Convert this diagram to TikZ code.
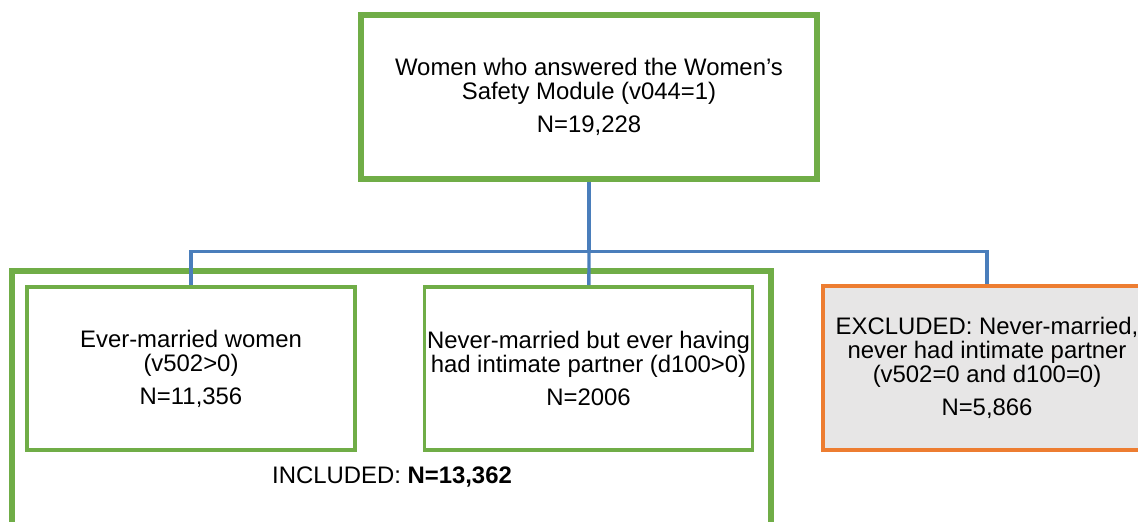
\documentclass[tikz,border=0pt]{standalone}
\usepackage{fontspec}
\setmainfont{Liberation Sans}
\usepackage{xcolor}
\usetikzlibrary{positioning,calc}
\definecolor{boxgreen}{HTML}{70AD47}
\definecolor{linkblue}{HTML}{4A7EBB}
\definecolor{exclorange}{HTML}{ED7D31}
\definecolor{exclgray}{HTML}{E7E6E6}
\tikzset{
  every picture/.style = {
    x=0.02cm,
    y=-0.02cm,
    font=\fontsize{13.6}{13.7}\selectfont
  }
}
\tikzset{
  stagebox/.style={
    draw = boxgreen,
    line width=3.4pt,
    align=center,
    inner sep=0pt,
    minimum width=9.12cm,
    minimum height=3.28cm
  },
  subbox/.style={
    draw = boxgreen,
    line width=2.2pt,
    align=center,
    inner sep=0pt,
    minimum width=6.56cm,
    minimum height=3.26cm
  },
  exclbox/.style={
    draw = exclorange,
    line width=2.2pt,
    fill = exclgray,
    align=center,
    inner sep=0pt,
    minimum width=6.56cm,
    minimum height=3.28cm
  },
  link/.style={
    draw = linkblue,
    line width=1.9pt
  },
  frame/.style={
    draw = boxgreen,
    line width=3.4pt
  }
}
\begin{document}
\begin{tikzpicture}
    \useasboundingbox (0,0) rectangle (1138,521);
    % outer frame of the included women
    \coordinate (frameBL) at (12,540);
    \coordinate (frameTR) at (771,271);
    \draw[frame] (frameBL) |- (frameTR) -- (frameTR |- frameBL);
    \node[stagebox] (safety) at (589,97) {Women who answered the Women’s\\ Safety Module (v044=1)\\[5pt] N=19,228};
    \node[subbox] (ever) at (191,368.5) {Ever-married women\\ (v502>0)\\[5pt] N=11,356};
    \node[subbox] (never) at (588.5,368.5) {Never-married but ever having\\ had intimate partner (d100>0)\\[5pt] N=2006};
    \node[exclbox] (excl) at (987,368) {EXCLUDED: Never-married,\\ never had intimate partner\\ (v502=0 and d100=0)\\[5pt] N=5,866};
    \node[anchor=base] (incl) at (392,483) {INCLUDED: \textbf{N=13,362}};
    % split of the sample
    \coordinate (split) at (589,251.5);
    \draw[link] (safety) -- (split);
    \draw[link] (split) -- (never);
    \draw[link] (split) -| (ever);
    \draw[link] (split) -| (excl);
\end{tikzpicture}
\end{document}
